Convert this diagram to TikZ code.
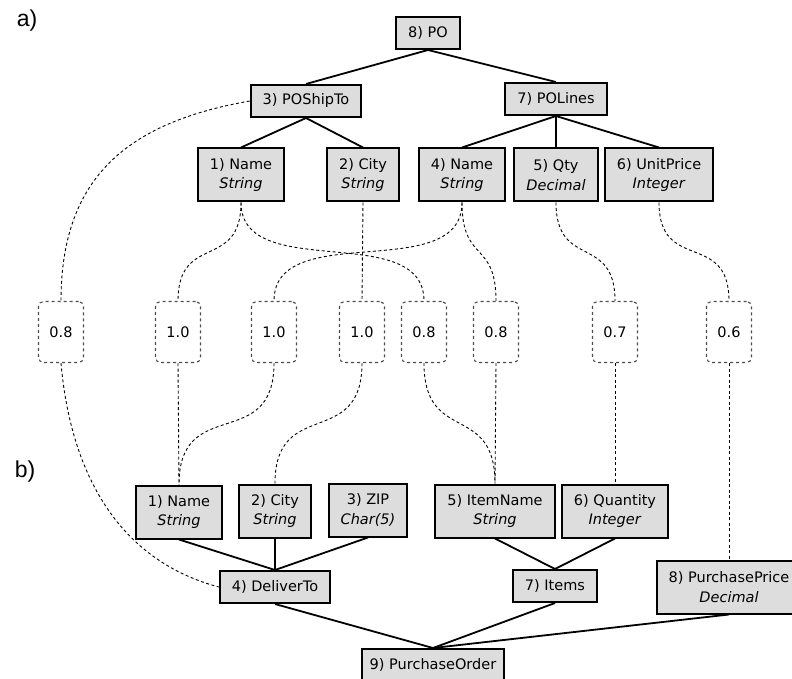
\documentclass[tikz,border=0pt]{standalone}
\usepackage{fontspec}
\setmainfont{DejaVu Sans}
\newfontfamily\partfont{Liberation Sans}
\usepackage{tikz}
\definecolor{boxgray}{RGB}{221,221,221}

\begin{document}
\begin{tikzpicture}[x=1pt,y=1pt,font=\fontsize{14.5}{19.5}\selectfont]
       \tikzstyle{elem}=[draw,line width=2pt,fill=boxgray,inner xsep=12pt,inner ysep=0pt,minimum height=32pt,align=center]
       \tikzstyle{leaf}=[elem,minimum height=53pt]
       \tikzstyle{weight}=[draw=black!70,dashed,line width=1.1pt,rounded corners=5pt,minimum width=45pt,minimum height=61pt,inner sep=0pt]
       \tikzstyle{tree}=[line width=1.8pt]
       \tikzstyle{match}=[line width=0.9pt,dash pattern=on 3pt off 2.5pt]

       \useasboundingbox (0,0) rectangle (792,-679);

       \node (part_a) at (27,-21) {\partfont\fontsize{23}{26}\selectfont a)};
       \node (part_b) at (25,-472) {\partfont\fontsize{23}{26}\selectfont b)};

       % schema a)
       \node[elem] (a_8) at (428,-33) {8) PO};
       \node[elem] (a_3) at (306,-101) {3) POShipTo};
       \node[elem] (a_7) at (556,-99) {7) POLines};
       \node[leaf] (a_1) at (241,-175) {1) Name\\\textit{String}};
       \node[leaf] (a_2) at (363,-175) {2) City\\\textit{String}};
       \node[leaf] (a_4) at (462,-175) {4) Name\\\textit{String}};
       \node[leaf] (a_5) at (556,-175) {5) Qty\\\textit{Decimal}};
       \node[leaf] (a_6) at (659,-175) {6) UnitPrice\\\textit{Integer}};

       \path[tree]
       (a_8.south) edge (a_3.north)
                   edge (a_7.north)
       (a_3.south) edge (a_1.north)
                   edge (a_2.north)
       (a_7.south) edge (a_4.north)
                   edge (a_5.north)
                   edge (a_6.north);

       % schema b)
       \node[leaf] (b_1) at (179,-512) {1) Name\\\textit{String}};
       \node[leaf] (b_2) at (275,-511) {2) City\\\textit{String}};
       \node[leaf] (b_3) at (368,-510) {3) ZIP\\\textit{Char(5)}};
       \node[leaf] (b_5) at (495,-511) {5) ItemName\\\textit{String}};
       \node[leaf] (b_6) at (615,-511) {6) Quantity\\\textit{Integer}};
       \node[elem] (b_4) at (275,-587) {4) DeliverTo};
       \node[elem] (b_7) at (555,-586) {7) Items};
       \node[leaf] (b_8) at (729,-587) {8) PurchasePrice\\\textit{Decimal}};
       \node[elem,inner xsep=8pt] (b_9) at (433,-665) {9) PurchaseOrder};

       \path[tree]
       (b_4.north) edge (b_1.south)
                   edge (b_2.south)
                   edge (b_3.south)
       (b_7.north) edge (b_5.south)
                   edge (b_6.south)
       (b_9.north) edge (b_4.south)
                   edge (b_7.south)
                   edge (b_8.south);

       % similarity values
       \node[weight] (w_1) at (61,-332) {0.8};
       \node[weight] (w_2) at (178,-332) {1.0};
       \node[weight] (w_3) at (274,-332) {1.0};
       \node[weight] (w_4) at (362,-332) {1.0};
       \node[weight] (w_5) at (424,-332) {0.8};
       \node[weight] (w_6) at (496,-332) {0.8};
       \node[weight] (w_7) at (615,-332) {0.7};
       \node[weight] (w_8) at (729,-332) {0.6};

       \path[match]
       (a_3.west) edge[out=190,in=90,looseness=1.15] (w_1.north)
       (w_1.south) edge[out=-85,in=165] (b_4.west)
       (a_1.south) edge[out=-90,in=90,looseness=1.5] (w_2.north)
                   edge[out=-90,in=90] (w_5.north)
       (a_2.south) edge (w_4.north)
       (a_4.south) edge[out=-90,in=90] (w_3.north)
                   edge[out=-90,in=90,looseness=1.5] (w_6.north)
       (a_5.south) edge[out=-90,in=90,looseness=1.5] (w_7.north)
       (a_6.south) edge[out=-90,in=90,looseness=1.5] (w_8.north);

       \path[match]
       (w_2.south) edge (b_1.north)
       (w_3.south) edge[out=-90,in=90,looseness=1.5] (b_1.north)
       (w_4.south) edge[out=-90,in=90,looseness=1.5] (b_2.north)
       (w_5.south) edge[out=-90,in=90,looseness=1.5] (b_5.north)
       (w_6.south) edge (b_5.north)
       (w_7.south) edge (b_6.north)
       (w_8.south) edge (b_8.north);
\end{tikzpicture}
\end{document}
